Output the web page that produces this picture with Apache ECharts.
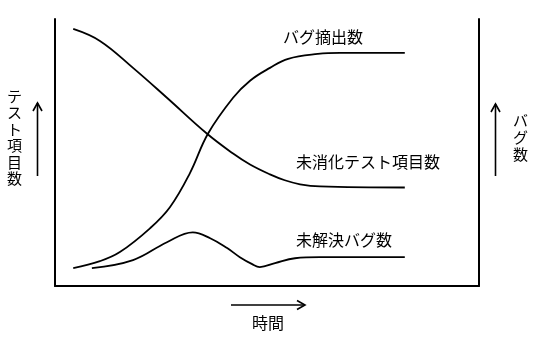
<!DOCTYPE html>
<html>
<head>
<meta charset="utf-8">
<script src="https://cdn.jsdelivr.net/npm/echarts@6/dist/echarts.min.js"></script>
<style>
html,body{margin:0;padding:0;background:#fff;}
#chart{width:538px;height:346px;}
</style>
</head>
<body>
<div id="chart"></div>
<script>
// Data (time on x, relative amount 0-100 on y)
const bugsFound = [[4.3,6.7],[10.6,9.3],[15.3,12.7],[22.4,21.6],[27.1,29.5],[31.8,42.2],[36.1,57.1],[42.0,70.5],[46.0,76.9],[50.7,81.7],[55.0,85.1],[62.0,86.9],[67.2,87.3],[82.5,87.3]];
const testsRemaining = [[4.3,96.3],[10.6,91.8],[18.4,81.7],[26.4,70.5],[35.8,57.1],[42.0,49.6],[46.0,45.5],[50.7,41.8],[54.2,39.6],[57.8,38.1],[62.5,37.3],[82.5,36.9]];
const bugsUnresolved = [[8.7,6.7],[18.4,9.7],[26.4,16.4],[32.5,20.1],[36.6,17.9],[40.6,14.2],[43.6,10.8],[46.5,8.2],[48.3,7.1],[51.9,8.6],[56.6,10.4],[62.5,10.8],[82.5,10.8]];
const seriesNames = ['バグ摘出数','未消化テスト項目数','未解決バグ数'];
const leftAxisTitle = 'テスト項目数';
const rightAxisTitle = 'バグ数';
const xAxisTitle = '時間';

const FONT = '"Noto Sans CJK JP", "Noto Sans", sans-serif';
const chart = echarts.init(document.getElementById('chart'), null, {renderer:'canvas'});

function vert(s){ return s.split('').join('\n'); }
function lineSeries(name, data){
  return {name:name, type:'line', data:data, smooth:0.4, showSymbol:false, silent:true,
    lineStyle:{color:'#000', width:1.8}};
}
const txt = {fill:'#000', font:'16px ' + FONT};

chart.setOption({
  animation:false,
  backgroundColor:'#fff',
  grid:{left:55, right:59, top:19, bottom:60},
  xAxis:{type:'value', min:0, max:100, axisLine:{show:true, lineStyle:{color:'#000', width:2}},
    axisTick:{show:false}, axisLabel:{show:false}, splitLine:{show:false}},
  yAxis:[
    {type:'value', min:0, max:100, axisLine:{show:true, onZero:false, lineStyle:{color:'#000', width:2}},
      axisTick:{show:false}, axisLabel:{show:false}, splitLine:{show:false}},
    {type:'value', min:0, max:100, position:'right', axisLine:{show:true, onZero:false, lineStyle:{color:'#000', width:2}},
      axisTick:{show:false}, axisLabel:{show:false}, splitLine:{show:false}}
  ],
  series:[
    lineSeries(seriesNames[0], bugsFound),
    lineSeries(seriesNames[1], testsRemaining),
    lineSeries(seriesNames[2], bugsUnresolved)
  ],
  graphic:[
    {type:'text', left:283, top:29, style:Object.assign({text:seriesNames[0]}, txt)},
    {type:'text', left:296, top:154, style:Object.assign({text:seriesNames[1]}, txt)},
    {type:'text', left:296, top:232, style:Object.assign({text:seriesNames[2]}, txt)},
    // left axis title + arrow
    {type:'text', left:7, top:88, style:{text:vert(leftAxisTitle), fill:'#000', font:'15px ' + FONT, lineHeight:16.5, align:'center'}},
    {type:'line', shape:{x1:37.5, y1:176, x2:37.5, y2:103}, style:{stroke:'#000', lineWidth:1.6}},
    {type:'polyline', shape:{points:[[33,111],[37.5,103],[42,111]]}, style:{stroke:'#000', lineWidth:1.6, fill:null}},
    // right axis title + arrow
    {type:'text', left:513, top:112, style:{text:vert(rightAxisTitle), fill:'#000', font:'15px ' + FONT, lineHeight:17, align:'center'}},
    {type:'line', shape:{x1:495.5, y1:176, x2:495.5, y2:104}, style:{stroke:'#000', lineWidth:1.6}},
    {type:'polyline', shape:{points:[[491,112],[495.5,104],[500,112]]}, style:{stroke:'#000', lineWidth:1.6, fill:null}},
    // bottom arrow + title
    {type:'line', shape:{x1:231, y1:305, x2:305, y2:305}, style:{stroke:'#000', lineWidth:1.6}},
    {type:'polyline', shape:{points:[[297,300.5],[305,305],[297,309.5]]}, style:{stroke:'#000', lineWidth:1.6, fill:null}},
    {type:'text', left:252, top:315, style:{text:xAxisTitle, fill:'#000', font:'16px ' + FONT}}
  ]
});
</script>
</body>
</html>
